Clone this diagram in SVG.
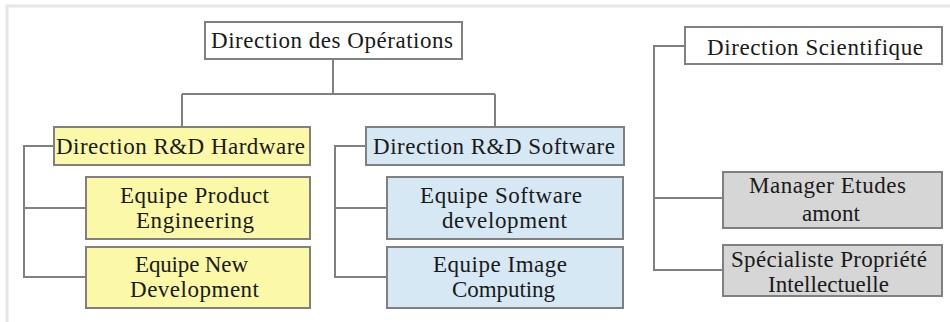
<svg xmlns="http://www.w3.org/2000/svg" width="950" height="322" viewBox="0 0 950 322">
<style>
.box{stroke:#808080;stroke-width:2}
.y{fill:#fbf8a8}
.b{fill:#d7e8f5}
.g{fill:#d6d6d6}
.w{fill:#ffffff}
.t{font-family:"Liberation Serif","Times New Roman",serif;font-size:23px;fill:#1a1a1a;text-anchor:middle}
.c{fill:none;stroke:#808080;stroke-width:2}
</style>
<rect width="950" height="322" fill="#ffffff"/>
<path d="M7 322 V6 H950" fill="none" stroke="#e6e6e6" stroke-width="3"/>
<g id="connectors">
<path class="c" d="M333 59 V94 M182 94 H495 M182 94 V127 M495 94 V127"/>
<path class="c" d="M54 146 H24 V277 H86 M24 208 H86"/>
<path class="c" d="M366 146 H335 V277 H386 M335 208 H386"/>
<path class="c" d="M685 46 H654 V270 H723 M654 198 H723"/>
</g>
<g id="dir-operations"><rect class="box w" x="205" y="22" width="257" height="37"/><text class="t" x="332" y="48" textLength="242" lengthAdjust="spacing">Direction des Opérations</text></g>
<g id="dir-hardware"><rect class="box y" x="54" y="127" width="256" height="38"/><text class="t" x="180.5" y="154" textLength="249" lengthAdjust="spacing">Direction R&amp;D Hardware</text></g>
<g id="dir-software"><rect class="box b" x="366" y="127" width="258" height="38"/><text class="t" x="494" y="154" textLength="242" lengthAdjust="spacing">Direction R&amp;D Software</text></g>
<g id="eq-product"><rect class="box y" x="86" y="177" width="224" height="62"/><text class="t" x="194.5" y="203" textLength="149" lengthAdjust="spacing">Equipe Product</text><text class="t" x="195" y="228" textLength="118" lengthAdjust="spacing">Engineering</text></g>
<g id="eq-new"><rect class="box y" x="86" y="247" width="224" height="61"/><text class="t" x="191.5" y="272" textLength="113" lengthAdjust="spacing">Equipe New</text><text class="t" x="194.5" y="297" textLength="129" lengthAdjust="spacing">Development</text></g>
<g id="eq-software"><rect class="box b" x="387" y="177" width="236" height="62"/><text class="t" x="501" y="203" textLength="162" lengthAdjust="spacing">Equipe Software</text><text class="t" x="504.5" y="228" textLength="125" lengthAdjust="spacing">development</text></g>
<g id="eq-image"><rect class="box b" x="387" y="247" width="236" height="61"/><text class="t" x="500" y="272" textLength="134" lengthAdjust="spacing">Equipe Image</text><text class="t" x="503.5" y="297" textLength="103" lengthAdjust="spacing">Computing</text></g>
<g id="dir-scientifique"><rect class="box w" x="685" y="27" width="257" height="37"/><text class="t" x="815" y="55" textLength="216" lengthAdjust="spacing">Direction Scientifique</text></g>
<g id="manager-etudes"><rect class="box g" x="723" y="172" width="219" height="56"/><text class="t" x="827.5" y="193" textLength="157" lengthAdjust="spacing">Manager Etudes</text><text class="t" x="831" y="221" textLength="58" lengthAdjust="spacing">amont</text></g>
<g id="specialiste"><rect class="box g" x="723" y="245" width="219" height="51"/><text class="t" x="829" y="267" textLength="196" lengthAdjust="spacing">Spécialiste Propriété</text><text class="t" x="828.5" y="292" textLength="121" lengthAdjust="spacing">Intellectuelle</text></g>
</svg>
